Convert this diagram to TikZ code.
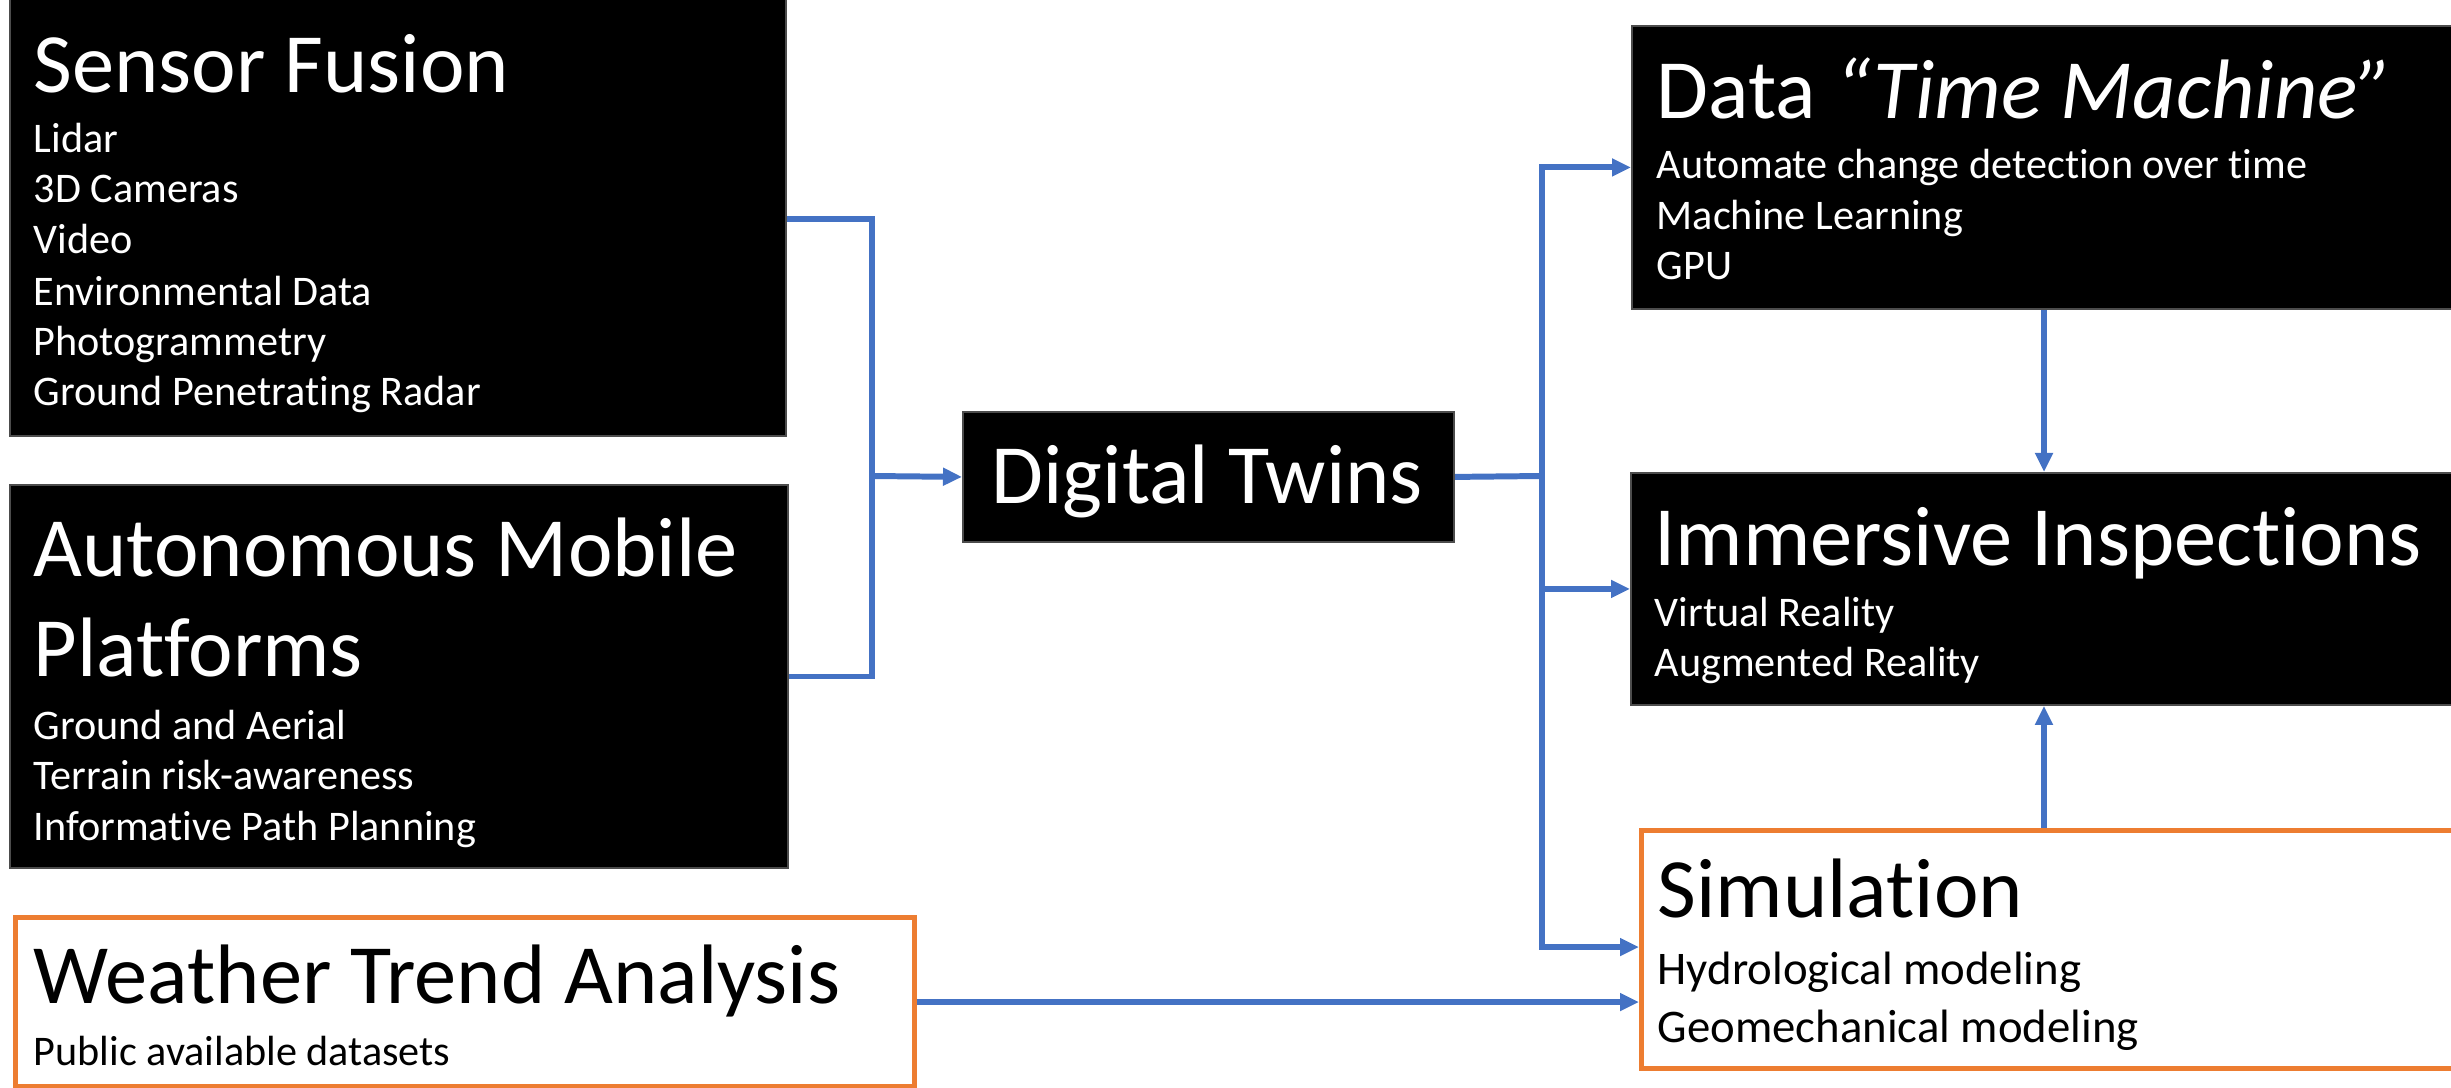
\documentclass[tikz,border=0pt]{standalone}
\usepackage{fontspec}
\setmainfont[Ligatures=NoCommon]{Carlito}
\usetikzlibrary{arrows.meta}
\definecolor{lnblue}{HTML}{4472C4}
\definecolor{boxorange}{HTML}{ED7D31}
\begin{document}
\begin{tikzpicture}[x=0.01cm,y=-0.01cm,
  blackbox/.style={rectangle, draw=black!70, line width=0.5pt, fill=black, inner sep=0pt, anchor=north west},
  orangebox/.style={rectangle, draw=boxorange, line width=1.42pt, fill=white, inner sep=0pt, anchor=north west},
  conn/.style={draw=lnblue, line width=1.7pt},
  arr/.style={conn, -{Triangle[length=0.19cm,width=0.17cm]}},
  ttl/.style={anchor=base west, inner sep=0pt, font=\fontsize{24}{29}\selectfont},
  sub/.style={anchor=base west, inner sep=0pt, font=\fontsize{12}{14.5}\selectfont},
  subb/.style={anchor=base west, inner sep=0pt, font=\fontsize{13.3}{16}\selectfont},
  wt/.style={text=white}, bk/.style={text=black}]
\useasboundingbox (0,0) rectangle (2451,1088);
\clip (0,0) rectangle (2451,1088);

% boxes
\node[blackbox, minimum width=7.76cm, minimum height=4.40cm] (SF) at (9,-5) {};
\node[blackbox, minimum width=7.78cm, minimum height=3.83cm] (AMP) at (9,484) {};
\node[orangebox, minimum width=8.98cm, minimum height=1.69cm] (WTA) at (13,915) {};
\node[blackbox, minimum width=4.91cm, minimum height=1.30cm] (DT) at (962,411) {};
\node[blackbox, minimum width=8.40cm, minimum height=2.83cm] (DTM) at (1631,25) {};
\node[blackbox, minimum width=8.40cm, minimum height=2.32cm] (II) at (1630,472) {};
\node[orangebox, minimum width=8.40cm, minimum height=2.38cm] (SIM) at (1639,828) {};

% texts: Sensor Fusion
\node[ttl, wt] (SFt) at (33,93) {Sensor Fusion};
\node[sub, wt] (SF1) at (33,153) {Lidar};
\node[sub, wt] (SF2) at (33,203) {3D Cameras};
\node[sub, wt] (SF3) at (33,254) {Video};
\node[sub, wt] (SF4) at (33,305) {Environmental Data};
\node[sub, wt] (SF5) at (33,355) {Photogrammetry};
\node[sub, wt] (SF6) at (33,406) {Ground Penetrating Radar};

% Autonomous Mobile Platforms
\node[ttl, wt] (AMPt1) at (33,576) {Autonomous Mobile};
\node[ttl, wt] (AMPt2) at (33,676) {Platforms};
\node[sub, wt] (AMP1) at (33,739) {Ground and Aerial};
\node[sub, wt] (AMP2) at (33,789) {Terrain risk-awareness};
\node[sub, wt] (AMP3) at (33,840) {Informative Path Planning};

% Weather
\node[ttl, bk] (WTAt) at (33,1003) {Weather Trend Analysis};
\node[sub, bk] (WTA1) at (33,1065) {Public available datasets};

% Digital Twins
\node[ttl, wt] (DTt) at (991,503) {Digital Twins};

% Data Time Machine
\node[ttl, wt] (DTMt) at (1656,119) {Data \textit{“Time Machine”}};
\node[sub, wt] (DTM1) at (1656,179) {Automate change detection over time};
\node[sub, wt] (DTM2) at (1656,230) {Machine Learning};
\node[sub, wt] (DTM3) at (1656,280) {GPU};

% Immersive Inspections
\node[ttl, wt] (IIt) at (1654,565) {Immersive Inspections};
\node[sub, wt] (II1) at (1654,626) {Virtual Reality};
\node[sub, wt] (II2) at (1654,676) {Augmented Reality};

% Simulation
\node[ttl, bk] (SIMt) at (1657,917) {Simulation};
\node[subb, bk] (SIM1) at (1657,984) {Hydrological modeling};
\node[subb, bk] (SIM2) at (1657,1042) {Geomechanical modeling};

% connectors
\coordinate (J1) at (872,476);
\coordinate (J2) at (1542,476);
\coordinate (VX) at (2044,0);

\draw[conn] ([yshift=-0.03cm]SF.east) -| (J1);
\draw[conn] (AMP.east) -| (J1);
\draw[arr] (J1) -- (DT.west);

\draw[conn] (DT.east) -- (J2);
\draw[arr] (J2) |- (DTM.west);
\draw[arr] (J2) |- (II.west);
\draw[arr] (J2) |- ([yshift=0.025cm]SIM.west);

\draw[arr] (DTM.south -| VX) -- (II.north -| VX);
\draw[arr] (SIM.north -| VX) -- (II.south -| VX);

\draw[arr] (WTA.east) -- (WTA.east -| SIM.west);
\end{tikzpicture}
\end{document}
